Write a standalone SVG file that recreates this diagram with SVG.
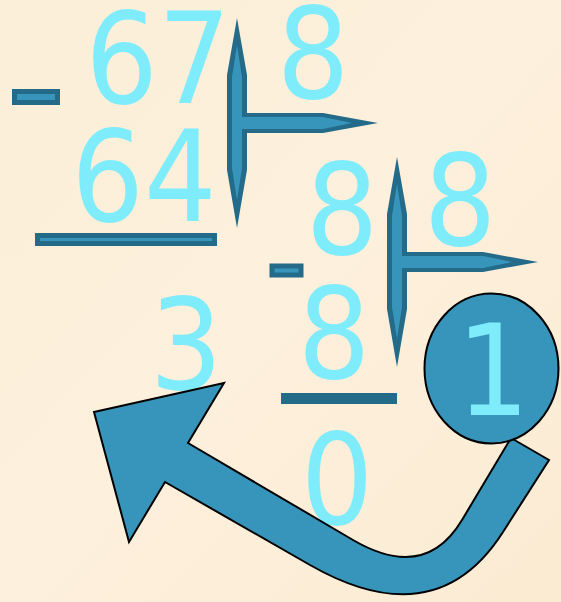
<svg xmlns="http://www.w3.org/2000/svg" width="561" height="602" viewBox="0 0 561 602">
<defs>
<linearGradient id="bg" x1="0" y1="0" x2="1" y2="1">
<stop offset="0" stop-color="#FCEFD9"/>
<stop offset="0.5" stop-color="#FDF0DC"/>
<stop offset="1" stop-color="#FBEBD3"/>
</linearGradient>
<g id="bracket">
<path fill="#246B8A" d="M237 18 L247 75 L247 113 L323 113 L378 123 L323 133 L247 133 L247 170 L237 228 L227 170 L227 75 Z"/>
<path fill="#3795BC" d="M237 45 L242 77 L242 117 L323 117 L352 123 L323 129 L242 129 L242 168 L237 200 L232 168 L232 77 Z"/>
</g>
</defs>
<style>
.num{font-family:"DejaVu Sans Condensed","DejaVu Sans",Verdana,sans-serif;font-stretch:condensed;font-size:127px;fill:#7FECFB;text-anchor:middle;}
.bar{fill:#3795BC;stroke:#246B8A;stroke-width:5;}
.dark{fill:#246B8A;}
.blob{fill:#3795BC;stroke:#000;stroke-width:2;}
</style>
<rect width="561" height="602" fill="url(#bg)"/>
<g id="step1">
<text class="num" x="158" y="103">67</text>
<text class="num" x="144" y="221">64</text>
<rect class="bar" x="14.5" y="91.5" width="43" height="11"/>
<rect class="bar" x="37.5" y="235.5" width="177" height="8"/>
<use href="#bracket"/>
<text class="num" x="313" y="98">8</text>
</g>
<g id="remainder3">
<text class="num" x="186" y="389">3</text>
</g>
<g id="step2">
<text class="num" x="342" y="254">8</text>
<text class="num" x="460" y="245">8</text>
<rect class="bar" x="272" y="266" width="29" height="9" stroke-width="4"/>
<text class="num" x="334" y="378">8</text>
<rect class="dark" x="281" y="393" width="116" height="11"/>
<use href="#bracket" transform="translate(160 139)"/>
<text class="num" x="337" y="524">0</text>
</g>
<g id="connectors">
<path class="blob" d="M94 412 L224 383 L188 443 L353 540 Q425 582 462 520 L511 438 L549 460 L503 532 Q436 637 310 565 L165 482 L129 542 Z"/>
</g>
<g id="circle1">
<ellipse class="blob" cx="491.5" cy="368.5" rx="67" ry="75"/>
<text class="num" x="493" y="415">1</text>
</g>
</svg>
